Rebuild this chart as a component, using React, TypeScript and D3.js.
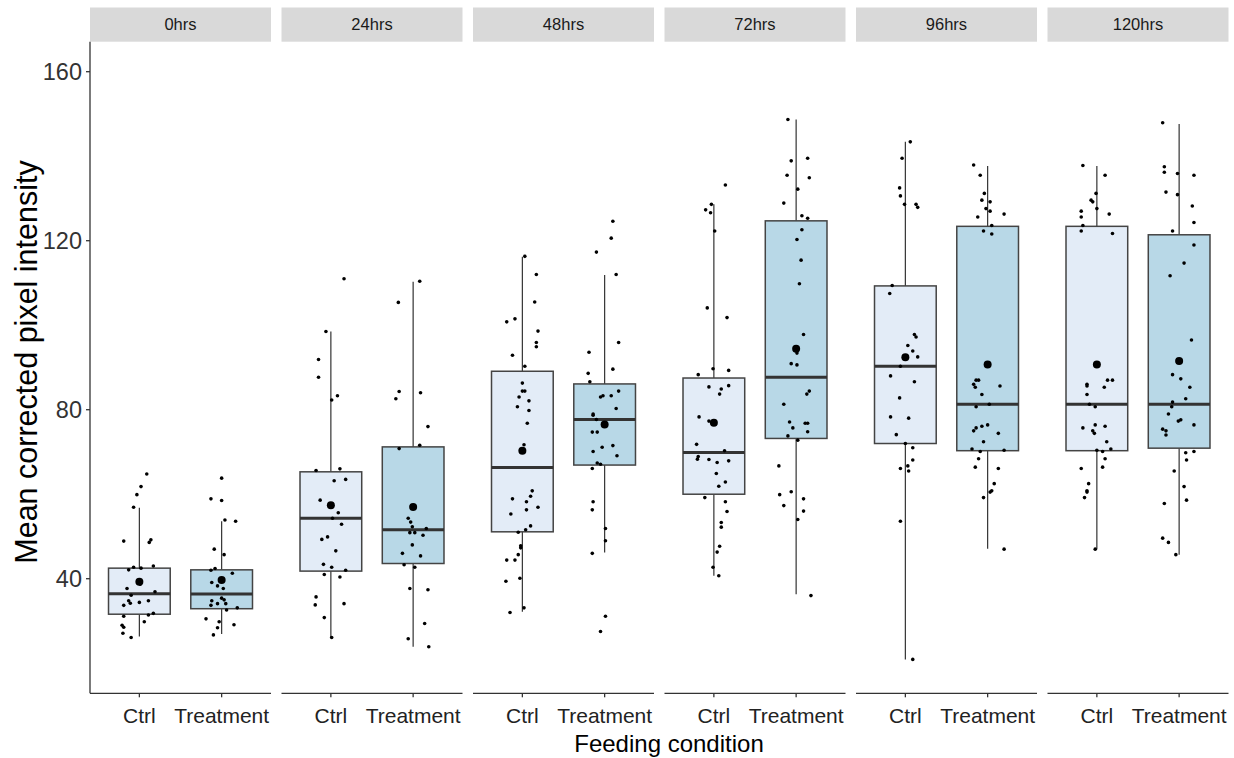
import React from "react";
import * as d3 from "d3";

const timepoints = ["0hrs", "24hrs", "48hrs", "72hrs", "96hrs", "120hrs"];
const conditions = ["Ctrl", "Treatment"];
const yTicks = [40, 80, 120, 160];

// box statistics, order: for each timepoint [Ctrl, Treatment]
const lowerWhisker = [26.3, 26.9, 26.1, 23.9, 32.2, 46.2, 40.7, 36.3, 20.9, 47.1, 47.0, 45.7];
const q1 = [31.6, 32.9, 41.8, 43.6, 51.1, 66.9, 60.0, 73.2, 72.0, 70.3, 70.3, 70.9];
const medians = [36.45, 36.4, 54.3, 51.6, 66.3, 77.7, 69.9, 87.7, 90.3, 81.3, 81.3, 81.3];
const q3 = [42.5, 42.1, 65.3, 71.2, 89.1, 86.1, 87.5, 124.7, 109.3, 123.4, 123.4, 121.4];
const upperWhisker = [56.8, 53.6, 98.5, 110.3, 116.2, 111.9, 128.6, 148.7, 143.4, 137.7, 137.7, 147.6];
const means = [39.3, 39.7, 57.4, 57.0, 70.3, 76.5, 76.9, 94.4, 92.4, 90.7, 90.7, 91.5];

// jittered observations: [value, horizontal jitter]
const ctrl0 = [[64.8,0.09],[61.8,0.02],[59.9,-0.03],[56.9,-0.07],[48.9,-0.19],[48.6,0.12],[49.2,0.14],[42.1,-0.13],[42.7,-0.07],[42.5,0.02],[43.0,0.17],[37.7,-0.15],[36.1,-0.10],[36.9,0.19],[34.8,-0.13],[34.2,-0.11],[34.4,0.0],[34.8,0.11],[33.7,-0.19],[31.1,-0.19],[31.4,0.11],[31.8,0.17],[29.8,0.06],[29.0,-0.21],[28.5,-0.19],[27.1,-0.20],[26.1,-0.10],[38.7,0.01]];
const trt0 = [[63.8,0.0],[58.9,-0.13],[58.5,0.0],[53.9,0.04],[53.6,0.17],[47.0,-0.09],[45.7,0.03],[42.0,-0.13],[42.4,-0.08],[41.3,0.13],[39.1,-0.12],[38.3,-0.05],[37.7,0.02],[34.8,-0.12],[35.4,0.0],[35.0,0.03],[34.1,-0.05],[33.7,-0.13],[34.1,0.05],[32.6,0.06],[33.1,0.19],[30.5,-0.19],[29.8,-0.03],[29.1,0.15],[28.4,-0.05],[26.7,-0.10]];
const ctrl24 = [[111.0,0.16],[98.5,-0.06],[91.9,-0.15],[87.7,-0.15],[83.3,0.08],[82.3,0.01],[65.6,-0.18],[66.0,0.11],[63.2,0.04],[63.5,0.18],[58.6,-0.13],[55.6,0.09],[54.3,0.02],[52.9,0.13],[49.9,-0.04],[49.3,-0.11],[46.6,0.06],[43.4,-0.09],[42.7,0.01],[42.0,0.18],[41.0,-0.08],[40.4,0.11],[35.7,-0.18],[33.8,-0.19],[34.1,0.16],[30.8,-0.08],[26.1,0.01]];
const trt24 = [[110.4,0.08],[105.4,-0.18],[84.3,-0.17],[82.6,-0.21],[84.0,0.09],[76.0,0.18],[70.8,-0.17],[71.6,0.08],[54.3,-0.06],[53.4,-0.03],[52.3,-0.01],[51.9,0.16],[50.9,-0.04],[50.9,0.02],[50.3,0.12],[48.0,-0.01],[46.0,-0.13],[45.4,0.09],[43.3,-0.11],[42.7,0.02],[37.7,-0.04],[37.4,0.18],[29.4,0.14],[25.8,-0.06],[23.9,0.19]];
const ctrl48 = [[116.3,0.03],[112.0,0.17],[105.5,0.15],[100.8,-0.19],[101.5,-0.09],[98.6,0.19],[95.9,0.17],[94.9,0.17],[92.9,-0.12],[90.3,0.03],[86.3,0.0],[84.4,0.0],[84.4,0.03],[83.0,-0.04],[82.1,0.08],[80.7,-0.06],[79.8,0.08],[76.8,0.06],[71.7,0.02],[60.8,0.12],[58.9,-0.12],[59.5,0.10],[58.2,0.05],[56.9,0.19],[56.3,0.05],[55.3,-0.14],[52.5,0.10],[51.6,0.04],[51.0,-0.05],[47.8,-0.02],[47.3,-0.02],[45.7,-0.05],[44.4,-0.19],[44.4,-0.09],[40.1,-0.03],[39.4,-0.20],[33.1,0.02],[32.0,-0.15]];
const trt48 = [[124.6,0.10],[120.6,0.08],[117.3,-0.10],[112.0,0.14],[95.9,0.17],[93.6,-0.19],[89.6,0.10],[88.6,-0.20],[86.6,-0.18],[84.4,0.17],[83.3,-0.02],[83.0,-0.05],[83.3,0.08],[80.3,0.14],[79.0,-0.14],[78.7,-0.14],[77.7,-0.10],[74.7,-0.15],[74.7,-0.09],[71.5,0.10],[71.1,-0.03],[69.1,0.15],[70.1,-0.14],[67.4,-0.09],[67.1,-0.05],[66.1,-0.15],[58.2,-0.14],[56.3,-0.15],[51.9,0.01],[49.0,0.01],[46.0,-0.15],[31.1,0.01],[27.5,-0.05]];
const ctrl72 = [[133.2,0.14],[128.6,-0.03],[127.3,-0.10],[126.6,-0.04],[122.3,0.01],[104.1,-0.08],[101.8,0.16],[89.7,-0.01],[89.3,0.18],[88.3,-0.19],[85.4,-0.06],[85.7,0.18],[84.9,0.09],[83.7,0.07],[78.3,-0.18],[77.3,-0.06],[71.8,-0.21],[70.3,0.13],[68.9,-0.19],[68.3,-0.20],[68.2,-0.06],[67.5,0.04],[67.9,0.18],[64.9,0.03],[62.9,0.14],[61.9,0.06],[59.2,-0.11],[58.2,0.14],[55.9,0.16],[53.3,0.09],[52.2,0.09],[47.7,0.07],[46.3,0.04],[42.7,-0.01],[40.7,0.06]];
const trt72 = [[148.7,-0.10],[138.9,-0.06],[139.5,0.14],[135.5,-0.11],[134.9,0.16],[132.2,0.02],[128.9,-0.15],[125.9,0.07],[125.3,0.14],[122.6,0.07],[120.3,0.01],[115.4,0.06],[109.8,0.04],[97.8,0.09],[93.4,0.01],[90.9,-0.06],[90.6,0.01],[84.4,0.16],[83.7,0.13],[81.3,-0.15],[77.1,-0.08],[75.7,-0.04],[76.8,0.11],[76.8,0.14],[74.8,0.14],[73.8,-0.10],[72.8,0.02],[66.7,-0.21],[59.9,-0.20],[60.6,-0.06],[58.9,0.09],[57.3,-0.15],[56.0,0.09],[54.0,0.02],[36.0,0.18]];
const ctrl96 = [[143.4,0.06],[139.5,-0.04],[132.5,-0.07],[130.6,-0.06],[128.6,-0.01],[128.6,0.13],[127.9,0.15],[109.4,-0.16],[107.5,-0.19],[97.8,0.11],[97.2,0.13],[95.2,0.03],[93.9,0.09],[92.5,0.15],[90.3,-0.06],[88.0,-0.18],[86.6,0.11],[82.8,-0.07],[78.3,-0.18],[78.0,0.04],[74.1,-0.11],[72.0,0.0],[71.0,0.09],[68.1,0.09],[66.1,-0.06],[66.7,0.03],[65.5,0.04],[53.6,-0.06],[20.9,0.09]];
const trt96 = [[137.9,-0.17],[135.5,-0.09],[131.2,-0.04],[129.6,-0.07],[129.2,0.03],[127.6,-0.02],[127.0,0.03],[126.3,0.20],[125.6,-0.12],[123.6,0.05],[122.3,-0.05],[121.6,0.05],[87.0,-0.14],[87.0,-0.11],[86.0,-0.17],[85.3,-0.15],[85.6,0.15],[83.6,-0.07],[80.7,-0.14],[81.3,0.02],[75.0,-0.17],[75.7,-0.14],[76.1,-0.07],[76.4,0.0],[74.4,0.13],[72.4,-0.05],[70.7,-0.19],[70.1,-0.09],[70.4,0.20],[68.4,-0.11],[66.4,-0.15],[66.1,0.13],[62.5,0.08],[60.8,0.05],[60.5,0.03],[59.2,-0.05],[47.0,0.20]];
const ctrl120 = [[137.8,-0.17],[135.5,0.10],[131.2,-0.01],[129.6,-0.07],[129.2,-0.05],[127.6,0.0],[127.0,-0.19],[126.3,0.15],[125.6,-0.19],[123.6,-0.17],[122.3,-0.19],[121.7,0.19],[87.0,0.13],[87.0,0.19],[86.0,-0.12],[85.6,-0.12],[85.3,0.09],[83.6,-0.12],[81.3,-0.09],[80.7,-0.02],[75.7,-0.17],[76.4,-0.02],[76.1,0.10],[75.0,-0.05],[74.4,-0.03],[72.4,0.12],[70.7,0.17],[70.4,0.0],[70.1,0.07],[68.4,0.10],[66.4,0.07],[66.1,-0.19],[62.5,-0.10],[60.8,-0.12],[60.5,-0.12],[59.2,-0.15],[47.0,-0.02]];
const trt120 = [[147.9,-0.20],[137.5,-0.18],[136.2,-0.18],[135.9,-0.02],[135.5,0.18],[131.5,-0.16],[130.9,-0.02],[128.2,0.16],[124.3,0.18],[122.3,-0.08],[119.0,0.18],[114.7,0.06],[111.7,-0.11],[96.5,0.15],[88.3,-0.08],[87.3,0.02],[85.3,0.13],[82.6,0.08],[81.8,-0.08],[80.7,-0.09],[79.0,-0.13],[77.3,-0.01],[77.6,0.02],[76.4,0.18],[75.4,-0.20],[75.0,-0.16],[74.0,-0.16],[69.8,0.08],[70.1,0.18],[68.1,0.09],[65.5,-0.06],[61.8,0.06],[58.6,0.09],[57.8,-0.18],[49.6,-0.20],[48.6,-0.13],[45.7,-0.04]];

const groupPoints = [ctrl0, trt0, ctrl24, trt24, ctrl48, trt48, ctrl72, trt72, ctrl96, trt96, ctrl120, trt120];
const fills = ["#e3ecf7", "#b8d8e7"];

const W = 1234;
const H = 758;
const PLOT_LEFT = 90;
const PLOT_RIGHT = 1228.5;
const PLOT_TOP = 41.7;
const PLOT_BOTTOM = 693.3;
const FONT = "Arial, 'Liberation Sans', sans-serif";

export default function App() {
  const panel = d3.scaleBand<string>().domain(timepoints).range([PLOT_LEFT, PLOT_RIGHT]).paddingInner(0.0548).paddingOuter(0);
  const bw = panel.bandwidth();
  const xIn = d3.scaleLinear().domain([0.4, 2.6]).range([0, bw]);
  const y = d3.scaleLinear().domain([12.88, 167.1]).range([PLOT_BOTTOM, PLOT_TOP]);
  const boxHalf = xIn(1.375) - xIn(1);

  return (
    <svg width={W} height={H} style={{ position: "absolute", left: 0, top: 0, background: "#fff" }} fontFamily={FONT}>
      <rect x={0} y={0} width={W} height={H} fill="#fff" />
      {timepoints.map((tp, ti) => {
        const px = panel(tp)!;
        return (
          <g key={tp}>
            <rect x={px} y={7.5} width={bw} height={PLOT_TOP - 7.5} fill="#d9d9d9" />
            <text x={px + bw / 2} y={30} textAnchor="middle" fontSize={16.5} fill="#1a1a1a">{tp}</text>
            <line x1={px} x2={px + bw} y1={PLOT_BOTTOM} y2={PLOT_BOTTOM} stroke="#333" strokeWidth={1.3} />
            {conditions.map((c, ci) => {
              const gi = ti * 2 + ci;
              const cx = px + xIn(ci + 1);
              const pts = groupPoints[gi];
              return (
                <g key={c}>
                  <line x1={cx} x2={cx} y1={PLOT_BOTTOM} y2={PLOT_BOTTOM + 4} stroke="#333" strokeWidth={1.3} />
                  <text x={cx} y={723} textAnchor="middle" fontSize={21} fill="#222">{c}</text>
                  <line x1={cx} x2={cx} y1={y(upperWhisker[gi])} y2={y(q3[gi])} stroke="#333" strokeWidth={1.2} />
                  <line x1={cx} x2={cx} y1={y(q1[gi])} y2={y(lowerWhisker[gi])} stroke="#333" strokeWidth={1.2} />
                  <rect x={cx - boxHalf} y={y(q3[gi])} width={boxHalf * 2} height={y(q1[gi]) - y(q3[gi])} fill={fills[ci]} stroke="#444" strokeWidth={1.5} />
                  <line x1={cx - boxHalf} x2={cx + boxHalf} y1={y(medians[gi])} y2={y(medians[gi])} stroke="#333" strokeWidth={3} />
                  {pts.map((p, pi) => (
                    <circle key={pi} cx={px + xIn(ci + 1 + p[1])} cy={y(p[0])} r={1.8} fill="#000" />
                  ))}
                  <circle cx={cx} cy={y(means[gi])} r={4} fill="#000" />
                </g>
              );
            })}
          </g>
        );
      })}
      <line x1={PLOT_LEFT} x2={PLOT_LEFT} y1={PLOT_TOP} y2={PLOT_BOTTOM} stroke="#333" strokeWidth={1.3} />
      {yTicks.map((t) => (
        <g key={t}>
          <line x1={PLOT_LEFT - 4} x2={PLOT_LEFT} y1={y(t)} y2={y(t)} stroke="#333" strokeWidth={1.3} />
          <text x={PLOT_LEFT - 8} y={y(t)} dy="0.36em" textAnchor="end" fontSize={23.5} fill="#333">{t}</text>
        </g>
      ))}
      <text x={669} y={752} textAnchor="middle" fontSize={24} fill="#000">Feeding condition</text>
      <text transform={`translate(37,${362}) rotate(-90)`} textAnchor="middle" fontSize={30.5} fill="#000">Mean corrected pixel intensity</text>
    </svg>
  );
}
